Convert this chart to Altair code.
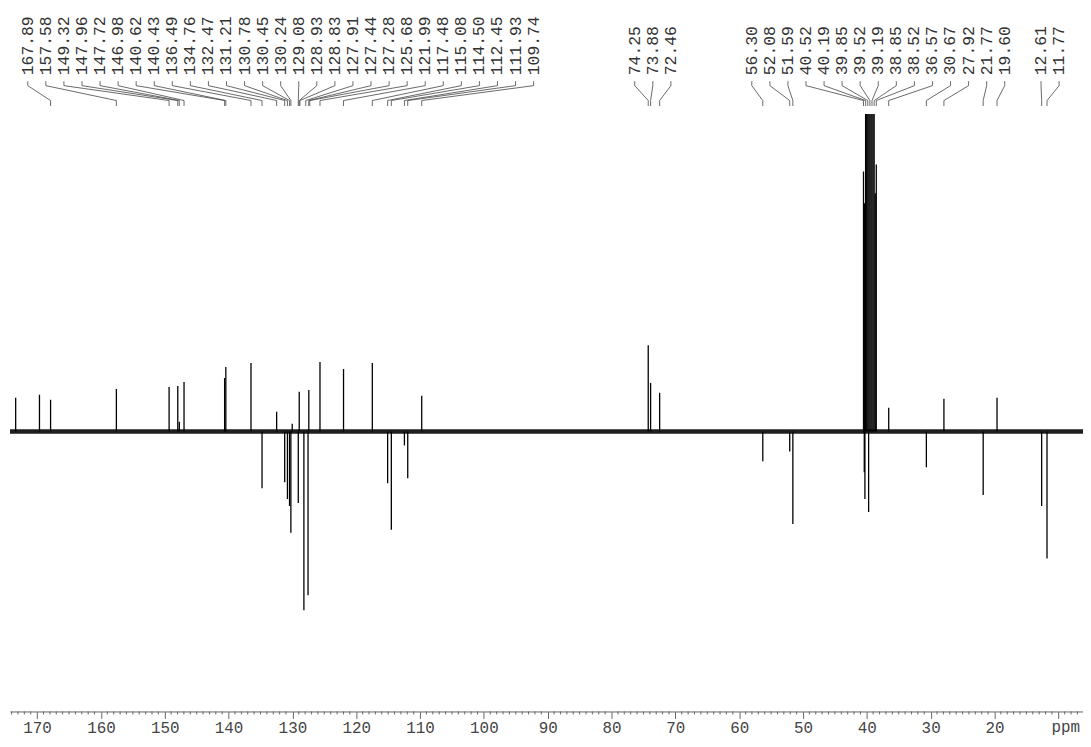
import altair as alt
import pandas as pd

# ---------------- data ----------------
# peak positions (ppm) and signed heights (arbitrary units, baseline = 0)
peak_ppm = [173.36, 169.63, 167.89, 157.58, 149.32, 147.96, 147.72, 146.98,
            140.62, 140.43, 136.49, 134.76, 132.47, 131.21, 130.78, 130.45,
            130.24, 130.03, 129.08, 128.93, 128.20, 127.55, 127.43, 125.68,
            121.99, 117.48, 115.08, 114.50, 112.45, 111.93, 109.74,
            74.25, 73.88, 72.46,
            56.30, 52.08, 51.59,
            40.52, 40.36, 40.19, 40.02, 39.85, 39.68, 39.52, 39.35, 39.19,
            39.02, 38.85, 38.68, 38.52,
            40.40, 40.30, 39.72,
            36.57, 30.67, 27.92, 21.77, 19.60, 12.61, 11.77]
peak_height = [34, 37, 32, 43, 45, 46, 10, 50,
               54, 65, 69, -57, 20, -51, -68, -75,
               -102, 8, -72, 40, -180, -165, 42, 70,
               63, 69, -52, -99, -14, -47, 36,
               87, 49, 39,
               -30, -20, -93,
               262, 230, 400, 330, 400, 360, 400, 360, 400,
               330, 400, 240, 269,
               -41, -68, -81,
               24, -36, 33, -64, 34, -75, -128]

# peak labels, in groups as printed above the spectrum
label_groups = [
    [167.89, 157.58, 149.32, 147.96, 147.72, 146.98, 140.62, 140.43, 136.49,
     134.76, 132.47, 131.21, 130.78, 130.45, 130.24, 129.08, 128.93, 128.83,
     127.91, 127.44, 127.28, 125.68, 121.99, 117.48, 115.08, 114.50, 112.45,
     111.93, 109.74],
    [74.25, 73.88, 72.46],
    [56.30, 52.08, 51.59, 40.52, 40.19, 39.85, 39.52, 39.19, 38.85, 38.52,
     36.57, 30.67, 27.92, 21.77, 19.60],
    [12.61, 11.77],
]

major_ticks = list(range(10, 180, 10))
minor_ticks = [v for v in range(7, 175) if v % 10 != 0]

# ---------------- layout ----------------
PPM_LO, PPM_HI = 6.13, 174.25
W, H = 1081, 602
Y_LO, Y_HI = -282, 320
PX_PER_PPM = W / (PPM_HI - PPM_LO)
LABEL_STEP = 18.2 / PX_PER_PPM          # spacing of labels (ppm units)
GROUP_SHIFT = [0.0, 0.0, 0.0, -0.9]     # layout offset of each label group
FONT = "Liberation Mono"

peaks = pd.DataFrame({"ppm": peak_ppm, "h": peak_height})
peaks["base"] = 0

rows = []
for g, vals in enumerate(label_groups):
    n = len(vals)
    centre = sum(vals) / n + GROUP_SHIFT[g]
    for i, v in enumerate(vals):
        lx = centre + ((n - 1) / 2 - i) * LABEL_STEP
        rows.append({"peak": v, "lx": lx, "text": f"{v:.2f}"})
labels = pd.DataFrame(rows)

xs = alt.Scale(domain=[PPM_LO, PPM_HI], reverse=True, nice=False, zero=False)
ys = alt.Scale(domain=[Y_LO, Y_HI], nice=False, zero=False)

axis_x = alt.Axis(values=major_ticks,
                  labelExpr="datum.value == 10 ? '' : datum.label",
                  tickSize=7, tickColor="#666", domainColor="#666",
                  domainWidth=1, tickWidth=1,
                  labelColor="#444", labelFont=FONT, labelFontSize=16,
                  labelPadding=1, grid=False, title=None)


def X(field):
    return alt.X(field, scale=xs, axis=axis_x)


spectrum = alt.Chart(peaks).mark_rule(color="black", strokeWidth=1.3, clip=True).encode(
    x=X("ppm:Q"),
    y=alt.Y("h:Q", scale=ys, axis=None),
    y2="base:Q",
)

baseline = alt.Chart(pd.DataFrame({"b": [0]})).mark_rule(
    color="black", strokeWidth=4.5, opacity=0.88).encode(
    y=alt.Y("b:Q", scale=ys, axis=None))

minor = alt.Chart(pd.DataFrame({"t": minor_ticks})).mark_rule(color="#666", strokeWidth=1).encode(
    x=X("t:Q"),
    y=alt.value(H), y2=alt.value(H + 3))

ppm_text = alt.Chart(pd.DataFrame({"t": ["ppm"]})).mark_text(
    font=FONT, fontSize=16, color="#444", align="right", baseline="top").encode(
    text="t:N", x=alt.value(W - 3), y=alt.value(H + 8))

seg1 = alt.Chart(labels).mark_rule(color="#444", strokeWidth=0.8).encode(
    x=X("lx:Q"), x2="lx:Q",
    y=alt.value(-33), y2=alt.value(-28.5))
seg2 = alt.Chart(labels).mark_rule(color="#444", strokeWidth=0.8).encode(
    x=X("lx:Q"), x2="peak:Q",
    y=alt.value(-28.5), y2=alt.value(-13.5))
seg3 = alt.Chart(labels).mark_rule(color="#444", strokeWidth=0.8).encode(
    x=X("peak:Q"), x2="peak:Q",
    y=alt.value(-13.5), y2=alt.value(-8))

label_text = alt.Chart(labels).mark_text(
    font=FONT, fontSize=16.5, color="#333", angle=270, align="left",
    baseline="middle").encode(
    x=X("lx:Q"), y=alt.value(-39), text="text:N")

chart = alt.layer(spectrum, baseline, minor, ppm_text, seg1, seg2, seg3, label_text).properties(
    width=W, height=H,
    autosize=alt.AutoSizeParams(type="none"),
    padding={"left": 2, "top": 104, "right": 0, "bottom": 25},
).configure_view(strokeWidth=0)

chart.save("out.html", embed_options={"renderer": "svg", "actions": False})
